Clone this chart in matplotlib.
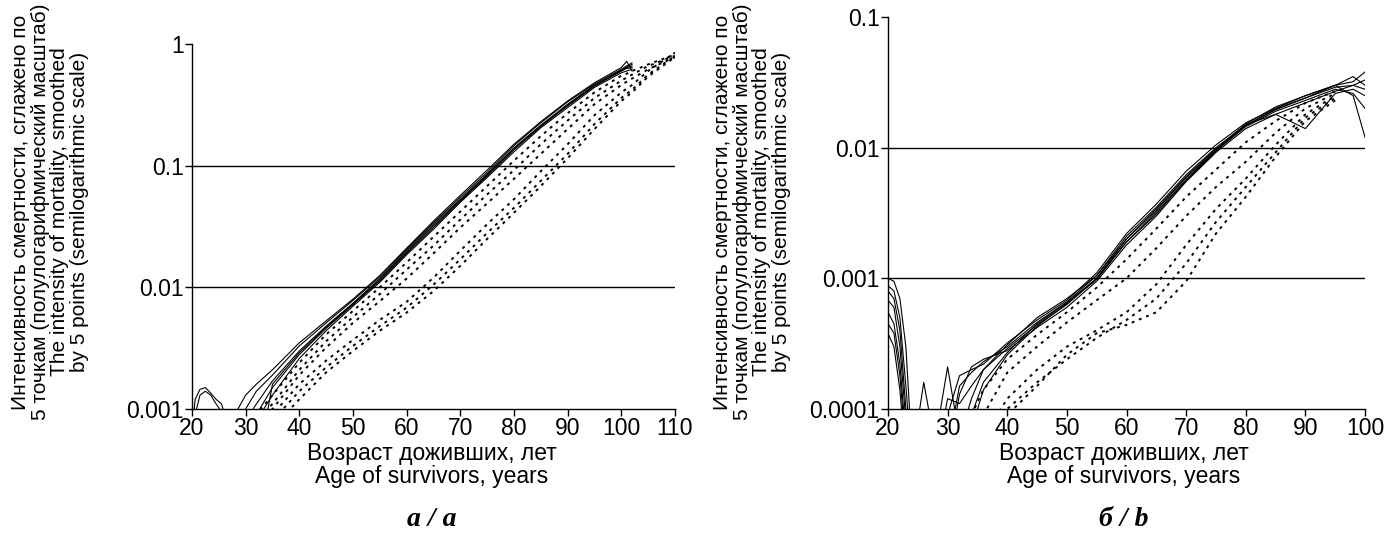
import matplotlib
matplotlib.use("Agg")
import matplotlib.pyplot as plt
import numpy as np

nan = np.nan

# ---- panel a: ages 20-110, mortality 0.001-1 ----
a_age = [28, 30, 32, 35, 40, 45, 50, 55, 60, 65, 70, 75, 80, 85, 90, 95, 100, 101, 102, 105, 110]

a_solid_1 = [0.0009, 0.0013, 0.0016, 0.0021, 0.0035, 0.0053, 0.008, 0.0125, 0.021, 0.035, 0.057, 0.092, 0.15, 0.23, 0.34, 0.48, 0.64, 0.72, 0.6, nan, nan]
a_solid_2 = [0.0007, 0.001, 0.0014, 0.0019, 0.0033, 0.0051, 0.0078, 0.0122, 0.0205, 0.034, 0.055, 0.088, 0.146, 0.225, 0.335, 0.47, 0.62, 0.66, 0.7, nan, nan]
a_solid_3 = [0.0005, 0.0008, 0.0011, 0.0017, 0.003, 0.0048, 0.0074, 0.0118, 0.02, 0.033, 0.053, 0.085, 0.14, 0.215, 0.32, 0.46, 0.6, 0.65, 0.68, nan, nan]
a_solid_4 = [nan, 0.0006, 0.0009, 0.0015, 0.0028, 0.0046, 0.0072, 0.0113, 0.019, 0.031, 0.051, 0.082, 0.135, 0.21, 0.31, 0.45, 0.6, 0.63, 0.64, nan, nan]
a_solid_5 = [nan, 0.0005, 0.0008, 0.0013, 0.0026, 0.0044, 0.007, 0.011, 0.0185, 0.03, 0.05, 0.08, 0.13, 0.205, 0.3, 0.44, 0.58, 0.6, 0.62, nan, nan]
a_solid_6 = [nan, nan, 0.0003, 0.0016, 0.0029, 0.0047, 0.0073, 0.0115, 0.0195, 0.032, 0.052, 0.084, 0.138, 0.212, 0.315, 0.455, 0.61, 0.64, 0.66, nan, nan]

a_dot_1 = [nan, 0.0007, 0.0009, 0.0013, 0.0024, 0.0041, 0.0064, 0.01, 0.016, 0.026, 0.042, 0.068, 0.11, 0.175, 0.27, 0.4, 0.55, 0.57, 0.6, 0.68, 0.82]
a_dot_2 = [nan, 0.0006, 0.0008, 0.0011, 0.0021, 0.0036, 0.0057, 0.0088, 0.014, 0.022, 0.036, 0.058, 0.092, 0.15, 0.235, 0.36, 0.5, 0.53, 0.56, 0.66, 0.8]
a_dot_3 = [nan, nan, 0.0007, 0.001, 0.0019, 0.0032, 0.0051, 0.0077, 0.0118, 0.019, 0.031, 0.049, 0.078, 0.125, 0.2, 0.32, 0.46, 0.49, 0.52, 0.62, 0.78]
a_dot_4 = [nan, nan, 0.0006, 0.0009, 0.0016, 0.0025, 0.0037, 0.0054, 0.0076, 0.012, 0.02, 0.033, 0.053, 0.09, 0.15, 0.26, 0.4, 0.43, 0.46, 0.6, 0.85]
a_dot_5 = [nan, nan, 0.0005, 0.0008, 0.0014, 0.0022, 0.0033, 0.0048, 0.0068, 0.0105, 0.017, 0.028, 0.045, 0.075, 0.125, 0.22, 0.36, 0.39, 0.42, 0.56, 0.8]
a_dot_6 = [nan, nan, 0.0004, 0.0007, 0.0012, 0.002, 0.003, 0.0044, 0.0062, 0.0093, 0.015, 0.025, 0.041, 0.068, 0.115, 0.2, 0.34, 0.37, 0.4, 0.54, 0.78]

# early bump near age 22
a_bump_age = [20.2, 20.6, 21.5, 22.5, 23.5, 24.5, 25.5, 26.5]
a_bump_1 = [0.0008, 0.0012, 0.00145, 0.0015, 0.00135, 0.0012, 0.0011, 0.0008]
a_bump_2 = [0.0008, 0.0009, 0.0013, 0.0014, 0.0013, 0.0011, 0.00095, 0.0008]

# ---- panel b: ages 20-100, mortality 0.0001-0.1 ----
b_age = [20, 21, 22, 23, 24, 26, 28, 30, 32, 34, 36, 40, 45, 50, 55, 60, 65, 70, 75, 80, 85, 90, 95, 98, 100]

b_solid_1 = [0.001, 0.00095, 0.0007, 0.0003, 0.00005, 0.00005, 0.00005, 0.00009, 0.00018, 0.0002, 0.00022, 0.00032, 0.00048, 0.00068, 0.0011, 0.0022, 0.0037, 0.0066, 0.0105, 0.0155, 0.02, 0.025, 0.03, 0.032, 0.038]
b_solid_2 = [0.00088, 0.0008, 0.0005, 0.00015, 0.00004, 0.00016, 0.00005, 0.00005, 0.00015, 0.00019, 0.00023, 0.0003, 0.00046, 0.00066, 0.00105, 0.002, 0.0034, 0.006, 0.0098, 0.0148, 0.0195, 0.024, 0.029, 0.03, 0.028]
b_solid_3 = [0.00068, 0.0006, 0.0003, 0.00008, 0.00004, 0.00004, 0.00006, 0.00021, 0.00006, 0.00012, 0.0002, 0.00029, 0.00044, 0.00063, 0.001, 0.0019, 0.0032, 0.0057, 0.0095, 0.0145, 0.019, 0.023, 0.028, 0.026, 0.02]
b_solid_4 = [0.00055, 0.00045, 0.00022, 0.00006, 0.00004, 0.00004, 0.00004, 0.00004, 0.00013, 0.00021, 0.00024, 0.00028, 0.00042, 0.0006, 0.00095, 0.0018, 0.003, 0.0055, 0.0092, 0.014, 0.018, 0.022, 0.027, 0.03, 0.033]
b_solid_5 = [0.00045, 0.00038, 0.00018, 0.00005, 0.00004, 0.00004, 0.00004, 0.00012, 0.00011, 0.00015, 0.0002, 0.00031, 0.0005, 0.0007, 0.00105, 0.0021, 0.0035, 0.0062, 0.01, 0.015, 0.018, 0.014, 0.026, 0.028, 0.025]
b_solid_6 = [0.00038, 0.0003, 0.00014, 0.00004, 0.00004, 0.00004, 0.00004, 0.00004, 0.00005, 0.00009, 0.00016, 0.00027, 0.00045, 0.00065, 0.001, 0.002, 0.0033, 0.0059, 0.0096, 0.0152, 0.0205, 0.025, 0.03, 0.025, 0.012]
b_solid_7 = [0.0008, 0.0007, 0.0004, 0.0001, 0.00004, 0.00004, 0.00004, 0.00004, 0.00004, 0.00007, 0.00014, 0.00026, 0.00043, 0.00064, 0.00098, 0.0019, 0.0031, 0.0056, 0.0094, 0.0148, 0.0198, 0.024, 0.03, 0.035, 0.03]

b_dot_1 = [nan, nan, nan, nan, nan, nan, nan, nan, nan, 0.00009, 0.00014, 0.00024, 0.00037, 0.00055, 0.00085, 0.0014, 0.0024, 0.0042, 0.0068, 0.011, 0.016, 0.022, 0.027, nan, nan]
b_dot_2 = [nan, nan, nan, nan, nan, nan, nan, nan, nan, nan, 0.00009, 0.00019, 0.0003, 0.00046, 0.00068, 0.001, 0.0017, 0.003, 0.005, 0.0078, 0.013, 0.02, 0.026, nan, nan]
b_dot_3 = [nan, nan, nan, nan, nan, nan, nan, nan, nan, nan, 0.00006, 0.00012, 0.0002, 0.0003, 0.0004, 0.00055, 0.0009, 0.0018, 0.0034, 0.0058, 0.0105, 0.018, 0.025, nan, nan]
b_dot_4 = [nan, nan, nan, nan, nan, nan, nan, nan, nan, nan, 0.00005, 0.0001, 0.00016, 0.00024, 0.00035, 0.00048, 0.0007, 0.0013, 0.0027, 0.005, 0.0092, 0.017, 0.024, nan, nan]
b_dot_5 = [nan, nan, nan, nan, nan, nan, nan, nan, nan, nan, 0.00004, 0.00009, 0.00015, 0.00026, 0.00038, 0.00044, 0.00055, 0.00095, 0.0022, 0.0042, 0.0085, 0.016, 0.023, nan, nan]

y_label = ("Интенсивность смертности, сглажено по\n"
           "5 точкам (полулогарифмический масштаб)\n"
           "The intensity of mortality, smoothed\n"
           "by 5 points (semilogarithmic scale)")
x_label = "Возраст доживших, лет\nAge of survivors, years"

plt.rcParams["font.family"] = ["Liberation Sans", "DejaVu Sans"]

SOLID = dict(color="black", lw=0.8, solid_joinstyle="round")
DOTTED = dict(color="black", lw=1.4, linestyle=(0, (1.5, 2.5)))


def setup_axis(ax, xmax, ymin, ymax, grid_levels):
    ax.set_yscale("log")
    ax.set_xlim(20, xmax)
    ax.set_ylim(ymin, ymax)
    ax.spines[["top", "right"]].set_visible(False)
    ax.spines[["left", "bottom"]].set_linewidth(1.0)
    ax.set_xticks(np.arange(20, xmax + 1, 10))
    decades = 10.0 ** np.arange(np.log10(ymin), np.log10(ymax) + 0.5)
    ax.set_yticks(decades)
    ax.set_yticklabels([f"{d:g}" for d in decades])
    ax.minorticks_off()
    ax.tick_params(direction="out", length=5, width=1.0, labelsize=16.5, pad=1)
    for lev in grid_levels:
        ax.axhline(lev, color="black", lw=1.0)


fig = plt.figure(figsize=(13.84, 5.42), dpi=100)

# panel a
ax1 = fig.add_axes([0.1387, 0.2454, 0.349, 0.6734])
setup_axis(ax1, 110, 0.001, 1, [0.1, 0.01])
for s in [a_solid_1, a_solid_2, a_solid_3, a_solid_4, a_solid_5, a_solid_6]:
    ax1.plot(a_age, s, **SOLID)
for s in [a_bump_1, a_bump_2]:
    ax1.plot(a_bump_age, s, **SOLID)
for s in [a_dot_1, a_dot_2, a_dot_3, a_dot_4, a_dot_5, a_dot_6]:
    ax1.plot(a_age, s, **DOTTED)

# panel b
ax2 = fig.add_axes([0.6416, 0.2454, 0.3447, 0.7232])
setup_axis(ax2, 100, 0.0001, 0.1, [0.01, 0.001])
for s in [b_solid_1, b_solid_2, b_solid_3, b_solid_4, b_solid_5, b_solid_6, b_solid_7]:
    ax2.plot(b_age, s, **SOLID)
for s in [b_dot_1, b_dot_2, b_dot_3, b_dot_4, b_dot_5]:
    ax2.plot(b_age, s, **DOTTED)

# axis titles and panel captions
for xc, yc_lab, cap in [(432, 50, "а / a"), (1124, 752, "б / b")]:
    fig.text(yc_lab / 1384, 1 - 212 / 542, y_label, rotation=90, ha="center",
             va="center", multialignment="center", fontsize=15, linespacing=1.05)
    fig.text(xc / 1384, 1 - 465 / 542, x_label, ha="center", va="center",
             multialignment="center", fontsize=16.5, linespacing=1.05)
    fig.text(xc / 1384, 1 - 520 / 542, cap, ha="center", va="center",
             fontsize=20, family="Liberation Serif", style="italic", weight="bold")

fig.savefig("out.png", dpi=100)
